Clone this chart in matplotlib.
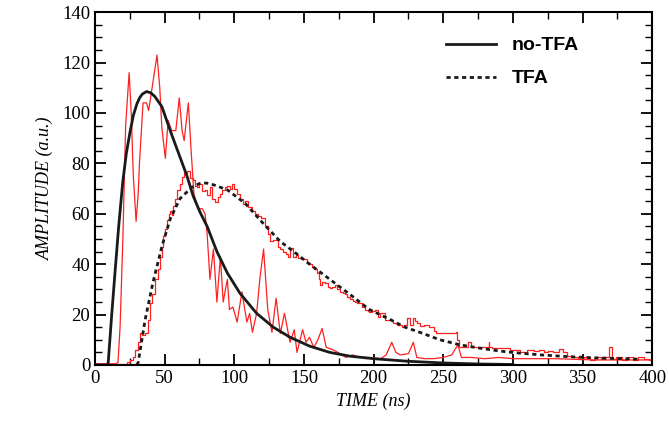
import numpy as np
import matplotlib
matplotlib.use('Agg')
import matplotlib.pyplot as plt
from matplotlib.ticker import MultipleLocator

# measured signal without TFA (ns, a.u.)
notfa_data = [(0, 0.5), (10, 0.5), (15, 0.5), (16.5, 1), (18, 15), (20, 50), (22, 95), (24.5, 116),
              (26, 100), (27.5, 75), (29.5, 57), (31, 68), (32, 81), (34.5, 104), (37, 104),
              (38.5, 101), (41, 110), (44.5, 123), (46.5, 110), (48, 94), (50.5, 82), (52.5, 97),
              (55, 93), (58, 93), (60.5, 106), (62.5, 93), (64, 89), (67, 104), (69, 85), (71, 68),
              (74, 62), (77, 62), (79, 60), (80.5, 52), (82.5, 34), (85, 46), (87.5, 25), (90, 43),
              (92, 25), (95, 34), (96.5, 22), (99, 23), (102, 17), (105.5, 29), (109, 17),
              (111, 20.5), (113, 13), (116, 20.5), (118.5, 35), (121, 46), (124, 22), (127, 13),
              (130, 26.5), (133, 12.5), (136, 20.5), (140, 9), (143, 14), (145, 5), (149, 14),
              (151.5, 9), (154, 11), (157, 7), (160, 10), (163, 14.5), (166, 7), (171, 6),
              (176, 4.5), (180, 3), (185, 4), (190, 3), (197, 3), (205, 2.5), (209, 4), (213, 9),
              (216, 5), (219, 4), (225, 4.5), (228.5, 9), (231, 3), (237, 2.5), (243, 2.5),
              (250, 3), (256, 4), (260.5, 8), (263, 3), (270, 3), (280, 2.5), (290, 3),
              (300, 2.5), (330, 2.5), (360, 2), (400, 2)]

# measured signal with TFA (ns, a.u.)
tfa_data = [(0, 0.5), (10, 0.5), (20, 0.5), (23, 1), (25, 2), (27, 3), (29, 6), (31, 9), (32.5, 12.5),
            (34, 12), (36, 12.5), (38, 18), (39.5, 24.5), (41, 28), (43, 34), (45, 38), (46.5, 43),
            (48, 47), (49, 51), (50.5, 54), (51.5, 57.5), (53, 60), (54, 61), (55, 59.5), (56, 63),
            (57.5, 66), (59, 69.5), (61, 72), (62.5, 74.5), (64, 76), (66, 77), (68, 74),
            (70, 73.5), (72, 71), (73, 70.5), (75, 72), (77, 69), (79, 69.5), (80.5, 67.5),
            (82.5, 70.5), (84, 66), (86, 64.5), (88, 66.5), (90, 68), (91, 69.5), (93, 70.5),
            (95, 71), (97, 70), (98.5, 72), (100, 70), (102, 68), (104, 66), (106, 64), (108, 65),
            (110, 62.5), (112.5, 61), (115, 60), (117, 59), (119, 58.5), (122, 55), (124, 52),
            (125.5, 49), (128, 49.5), (131, 47), (133, 46), (135, 45), (137, 44), (138.5, 43),
            (140, 46.5), (142, 43), (144, 43.5), (146, 42.5), (148, 42), (150, 42), (152, 40.5),
            (154, 40), (155.5, 39), (157, 38), (159, 36.5), (160.5, 34), (161.5, 31.7), (163, 33),
            (165, 32.5), (167, 31), (168.5, 30.5), (170, 31), (172, 31.7), (174, 30), (176, 29),
            (178, 28.5), (179.5, 28), (181, 27), (183, 26), (185, 25.5), (186.5, 25), (188, 24.5),
            (190, 24.5), (192, 23), (194, 22), (196, 21.5), (197, 21), (199, 21.5), (201, 22),
            (203, 19), (204.5, 20.5), (206, 20.5), (208, 18), (210, 18), (212, 18), (214, 16.5),
            (215, 16.5), (217, 16), (220, 15), (222, 16), (224, 18.5), (226, 16), (228.5, 18.5),
            (230, 17.5), (231, 16.7), (233, 15.5), (236, 16), (238, 16), (240, 15), (241.5, 15),
            (243, 13.5), (245, 12.5), (250, 12.5), (254.5, 12.5), (257, 12.5), (259, 13),
            (260, 10), (261, 7), (264, 7), (267, 7), (268, 9), (270, 7), (276, 7), (282, 7),
            (282.5, 9), (283, 7), (285, 6.7), (291, 6.7), (298, 6), (305, 5), (310, 6),
            (315, 5.5), (319, 6), (322, 5), (325, 5.5), (329, 5), (333, 6.5), (336, 5),
            (339, 3.5), (343, 3), (347, 2.5), (351, 3), (355, 2), (359, 3), (363, 2.5), (366, 3),
            (369, 7), (371, 2.5), (374, 3), (378, 2), (382, 3), (386, 2), (390, 3), (394, 2.5),
            (398, 2), (400, 2.5)]

# fitted pulse shapes
notfa_fit = [(0, 0), (9, 0), (9.5, 1), (12, 20), (14.5, 37.7), (17, 55), (20, 73), (22.5, 84),
             (25, 92), (27.5, 99), (30, 103.5), (32, 106), (34, 107.5), (37, 108.5), (40, 108),
             (43, 106.5), (48, 102.5), (54, 93), (60, 84), (66, 75), (70.5, 67), (75.5, 60.5),
             (80.5, 55), (87.5, 45), (95, 36.5), (104, 28.5), (116, 20.5), (128, 15), (140, 11),
             (154, 7.5), (168.5, 5), (183, 3.5), (200, 2.5), (224, 1.5), (250, 0.8), (275, 0.4),
             (300, 0.2)]

tfa_fit = [(30, 0), (31, 1), (36, 18), (41.5, 32.5), (48, 47), (54, 58), (61, 66), (69.5, 70.5),
           (75, 72), (80, 72.2), (85, 71.5), (95, 69.5), (108, 64), (121, 56), (133, 49),
           (145, 44), (154, 40), (168.5, 34), (183, 28), (197, 22), (212, 18), (222.5, 15),
           (233, 13), (247.5, 10), (262, 8), (276, 6.7), (291, 5.5), (305, 4.7), (320, 4),
           (340, 3.3), (360, 2.8), (380, 2.5), (392, 2.3)]

fig = plt.figure(figsize=(6.69, 4.34), dpi=100)
ax = fig.add_axes([0.142, 0.159, 0.833, 0.813])

t, a = np.array(notfa_data).T
ax.plot(t, a, color='#ff2020', lw=0.9)
t, a = np.array(tfa_data).T
ax.plot(t, a, color='#ff2020', lw=0.9, drawstyle='steps-post')

t, a = np.array(notfa_fit).T
ax.plot(t, a, color='#1a1a1a', lw=2.0, label='no-TFA')
t, a = np.array(tfa_fit).T
ax.plot(t, a, color='#1a1a1a', lw=2.0, linestyle=(0, (1.5, 1.3)), label='TFA')

ax.set_xlim(0, 400)
ax.set_ylim(0, 140)
ax.xaxis.set_major_locator(MultipleLocator(50))
ax.xaxis.set_minor_locator(MultipleLocator(25))
ax.yaxis.set_major_locator(MultipleLocator(20))
ax.yaxis.set_minor_locator(MultipleLocator(5))
ax.tick_params(which='both', direction='in', top=True, right=True, labelsize=13.5)
ax.tick_params(which='major', length=8, width=1.3)
ax.tick_params(which='minor', length=5, width=1.0)
for lab in ax.get_xticklabels() + ax.get_yticklabels():
    lab.set_family('Liberation Serif')
for sp in ax.spines.values():
    sp.set_linewidth(1.5)

ax.set_xlabel('TIME (ns)', fontsize=13, family='Liberation Serif', style='italic', labelpad=4)
ax.set_ylabel('AMPLITUDE (a.u.)', fontsize=13, family='Liberation Serif', style='italic', labelpad=6)

ax.legend(loc='upper right', bbox_to_anchor=(0.9, 0.98), frameon=False, handlelength=2.6,
          labelspacing=0.8, prop={'family': 'Liberation Sans', 'weight': 'bold', 'size': 14})

fig.savefig('out.png', dpi=100)
